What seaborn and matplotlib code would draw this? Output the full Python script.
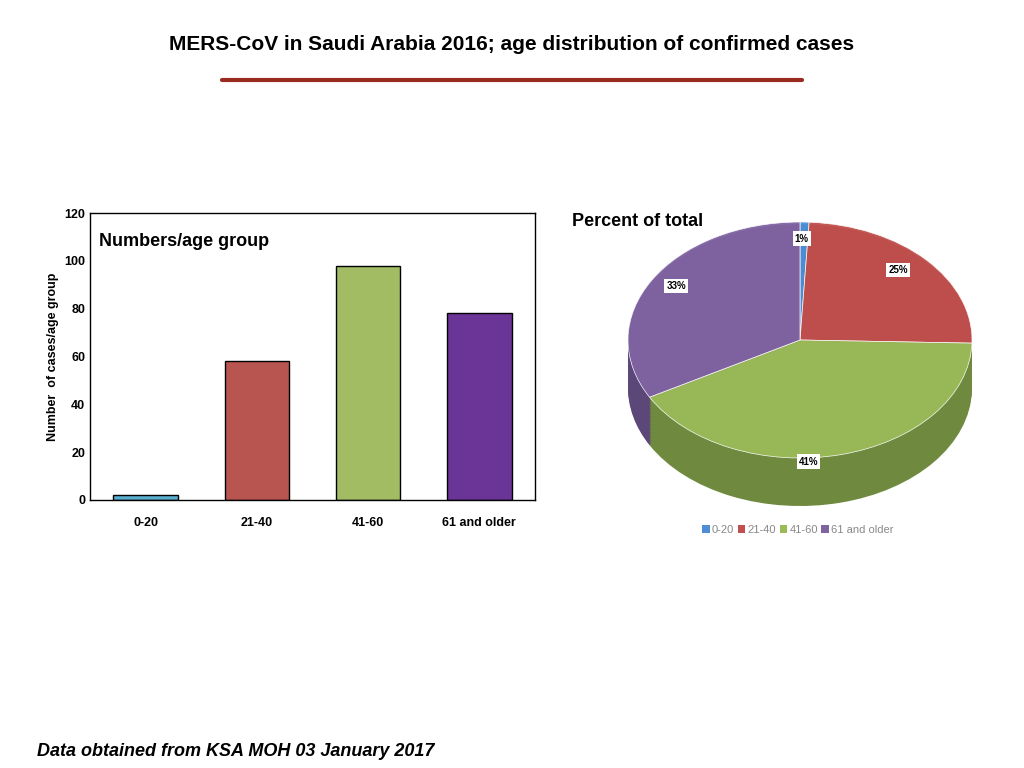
import matplotlib
matplotlib.use("Agg")
import matplotlib.pyplot as plt
import seaborn as sns
import pandas as pd
from matplotlib.patches import Patch

groups = ["0-20", "21-40", "41-60", "61 and older"]
cases = [2, 58, 98, 78]
bar_colors = ["#5aaed0", "#b95551", "#a2bc63", "#6a3597"]
pie_colors = ["#4f8ed6", "#c0504d", "#9bbb59", "#8064a2"]
pct_labels = ["1%", "25%", "41%", "33%"]

sns.set_style("white")
plt.rcParams['font.family'] = ['Liberation Sans', 'DejaVu Sans']
plt.rcParams['text.color'] = 'black'
plt.rcParams['axes.labelcolor'] = 'black'
plt.rcParams['xtick.color'] = 'black'
plt.rcParams['ytick.color'] = 'black'
fig = plt.figure(figsize=(10.24, 7.68), dpi=100)

fig.text(0.5, 1 - 45/768, "MERS-CoV in Saudi Arabia 2016; age distribution of confirmed cases",
         ha="center", va="center", fontsize=15, fontweight="bold")
fig.add_artist(plt.Line2D([222/1024, 802/1024], [1-80/768]*2, color="#9b2a1f", lw=3))
fig.text(37/1024, 1-752/768, "Data obtained from KSA MOH 03 January 2017",
         fontsize=13, fontweight="bold", style="italic", va="center")

ax = fig.add_axes([90/1024, 1-500/768, 445/1024, 287/768])
df = pd.DataFrame({"g": groups, "n": cases})
sns.barplot(data=df, x="g", y="n", hue="g", palette=bar_colors, legend=False,
            width=0.58, edgecolor="black", linewidth=1, saturation=1, ax=ax)
ax.set_ylim(0, 120)
ax.set_yticks(range(0, 121, 20))
ax.set_xlabel("")
ax.set_ylabel("Number  of cases/age group", fontsize=9, fontweight="bold")
ax.tick_params(axis="y", labelsize=9, length=0)
for t in ax.get_yticklabels():
    t.set_fontweight("bold")
ax.set_xticks(range(4))
ax.set_xticklabels(groups, fontsize=9, fontweight="bold")
ax.tick_params(axis="x", length=0, pad=12)
for s in ax.spines.values():
    s.set_color("black"); s.set_linewidth(1)
ax.text(0.02, 0.93, "Numbers/age group", transform=ax.transAxes, fontsize=13,
        fontweight="bold", va="top")

# pie
cx, cy, rx, ry = 800, 340, 172, 118
depth = 48
pax = fig.add_axes([(cx-rx)/1024, 1-(cy+ry+depth)/768, 2*rx/1024, (2*ry+depth)/768])
pax.axis("off")
dark = ["#3a6aa0", "#8e3b39", "#6f8a3f", "#5c4878"]
for k in range(depth, 0, -2):
    pax.pie(cases, colors=dark, startangle=90, counterclock=False,
            center=(0, -k/ry), radius=1, wedgeprops=dict(linewidth=0))
wedges, _ = pax.pie(cases, colors=pie_colors, startangle=90, counterclock=False,
                    radius=1, wedgeprops=dict(linewidth=0.5, edgecolor="white", alpha=0.95))
pax.set_aspect("auto")
pax.set_xlim(-1, 1)
pax.set_ylim(-1 - depth/ry, 1)
pos = [(0.01, 0.86), (0.57, 0.59), (0.05, -1.03), (-0.72, 0.46)]
for (x, y), lab in zip(pos, pct_labels):
    pax.text(x, y, lab, ha="center", va="center", fontsize=7, fontweight="bold",
             bbox=dict(facecolor="white", edgecolor="none", pad=1.5))
fig.text(572/1024, 1-222/768, "Percent of total", fontsize=13, fontweight="bold", va="center")
handles = [Patch(facecolor=c, edgecolor="none") for c in pie_colors]
fig.legend(handles, groups, loc="center", bbox_to_anchor=(798/1024, 1-530/768), ncol=4,
           frameon=False, fontsize=8, handlelength=0.7, handleheight=0.7,
           columnspacing=0.3, handletextpad=0.2, labelcolor="#888888")

fig.savefig("out.png", dpi=100)
